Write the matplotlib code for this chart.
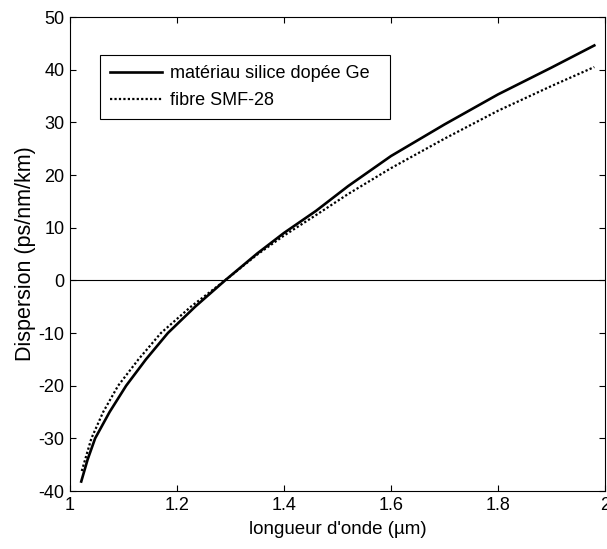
import matplotlib
matplotlib.use("Agg")
import matplotlib.pyplot as plt

# Material dispersion of Ge-doped silica (wavelength in um, D in ps/nm/km)
WL_MATERIAL = [1.021, 1.033, 1.047, 1.074, 1.105, 1.142, 1.183, 1.234, 1.29,
               1.35, 1.40, 1.46, 1.52, 1.60, 1.70, 1.80, 1.90, 1.98]
D_MATERIAL = [-38.2, -34.0, -30.0, -25.0, -20.0, -15.0, -10.0, -5.0, 0.0,
              5.1, 9.0, 13.2, 17.9, 23.6, 29.6, 35.3, 40.4, 44.6]

# Dispersion of the SMF-28 fibre
WL_SMF28 = [1.022, 1.040, 1.062, 1.090, 1.128, 1.170, 1.226, 1.29,
            1.35, 1.40, 1.46, 1.52, 1.60, 1.70, 1.80, 1.90, 1.98]
D_SMF28 = [-36.2, -30.0, -25.0, -20.0, -15.0, -10.0, -5.0, 0.0,
           4.9, 8.5, 12.4, 16.4, 21.3, 26.9, 32.2, 36.9, 40.5]

XTICKS = [1, 1.2, 1.4, 1.6, 1.8, 2]
XTICKLABELS = ["1", "1.2", "1.4", "1.6", "1.8", "2"]
YTICKS = [-40, -30, -20, -10, 0, 10, 20, 30, 40, 50]

plt.rcParams['font.family'] = ['Liberation Sans', 'DejaVu Sans']
plt.rcParams['font.size'] = 13
plt.rcParams['axes.unicode_minus'] = False

fig = plt.figure(figsize=(6.07, 5.49), dpi=100)
ax = fig.add_axes([70 / 607, 1 - 491 / 549, 535 / 607, 474 / 549])

ax.plot(WL_MATERIAL, D_MATERIAL, color="black", lw=1.9, label="matériau silice dopée Ge")
ax.plot(WL_SMF28, D_SMF28, color="black", lw=1.6, ls=(0, (1, 1)), label="fibre SMF-28")
ax.axhline(0, color="black", lw=0.8)

ax.set_xlim(1, 2)
ax.set_ylim(-40, 50)
ax.set_xticks(XTICKS)
ax.set_xticklabels(XTICKLABELS)
ax.set_yticks(YTICKS)
ax.tick_params(direction="in", length=4, width=0.8, top=True, right=True, pad=4)
for sp in ax.spines.values():
    sp.set_linewidth(0.8)

ax.set_xlabel("longueur d'onde (µm)", fontsize=13.5, labelpad=5)
ax.set_ylabel("Dispersion (ps/nm/km)", fontsize=15.5, labelpad=2)

# legend box stretched to a fixed width, entries kept on the left
leg_top = 1 - 38 / 474
leg = ax.legend(loc="upper left", mode="expand",
                bbox_to_anchor=(30 / 535, leg_top - 0.2, 290 / 535, 0.2),
                frameon=True, fancybox=False, edgecolor="black", framealpha=1,
                handlelength=2.9, handletextpad=0.4, borderpad=0.55,
                labelspacing=0.55, borderaxespad=0)
leg.get_frame().set_linewidth(0.8)

fig.savefig("out.png", dpi=100)
